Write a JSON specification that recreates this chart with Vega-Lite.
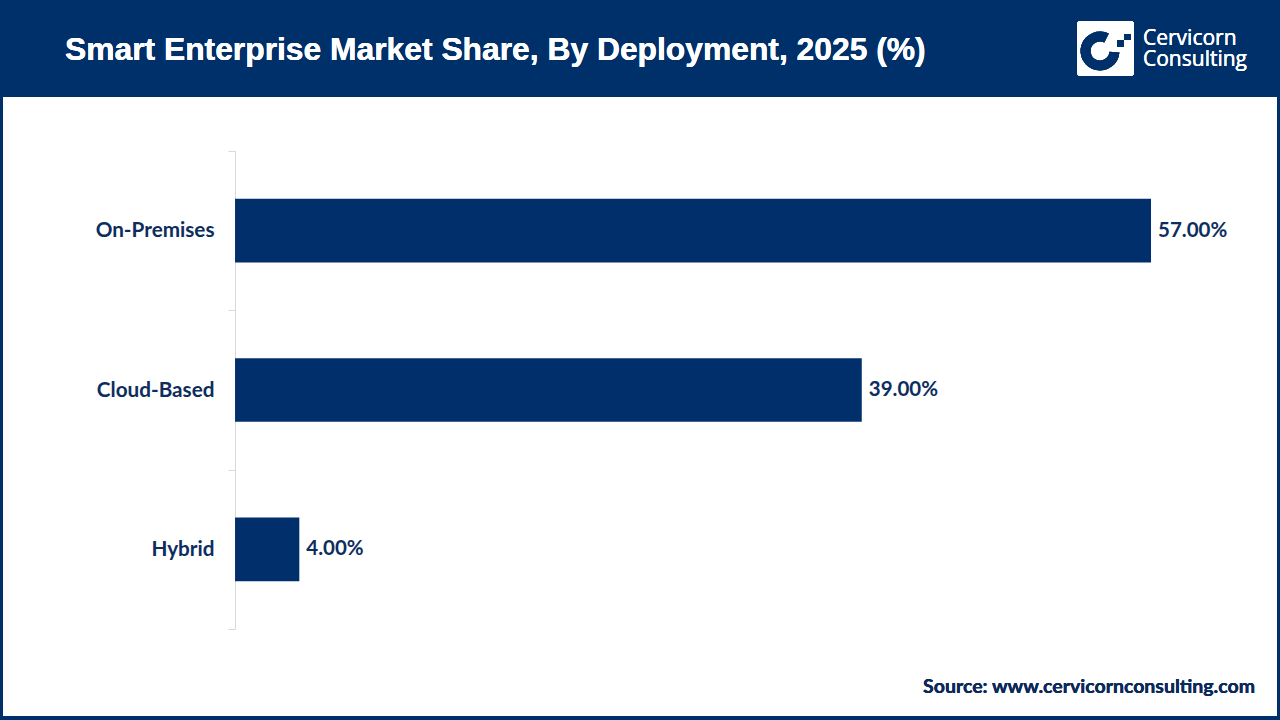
{
  "$schema": "https://vega.github.io/schema/vega-lite/v6.json",
  "width": 1274,
  "height": 619,
  "autosize": {"type": "none"},
  "padding": {"left": 3, "top": 97, "right": 3, "bottom": 4},
  "background": "#003069",
  "view": {"fill": "white", "stroke": null},
  "config": {"font": "Lato"},
  "data": {
    "values": [
      {"deployment": "On-Premises", "share": 57.0},
      {"deployment": "Cloud-Based", "share": 39.0},
      {"deployment": "Hybrid", "share": 4.0}
    ]
  },
  "encoding": {
    "y": {
      "field": "deployment",
      "type": "nominal",
      "sort": null,
      "scale": {"range": [54, 532], "paddingInner": 0, "paddingOuter": 0},
      "axis": {
        "title": null,
        "offset": -232,
        "tickBand": "extent",
        "domainColor": "#d9d9d9",
        "tickColor": "#d9d9d9",
        "tickSize": 7,
        "labelPadding": 14,
        "labelFont": "Lato",
        "labelFontWeight": "bold",
        "labelFontSize": 20.7,
        "labelColor": "#0d2d5e"
      }
    }
  },
  "layer": [
    {
      "mark": {"type": "bar", "color": "#002f6c", "height": {"band": 0.4}},
      "encoding": {
        "x": {
          "field": "share",
          "type": "quantitative",
          "scale": {"domain": [-14.44, 64.84], "nice": false, "zero": false},
          "axis": null
        }
      }
    },
    {
      "transform": [{"calculate": "format(datum.share, '.2f') + '%'", "as": "label"}],
      "mark": {"type": "text", "align": "left", "baseline": "middle", "dx": 7, "font": "Lato", "fontWeight": "bold", "fontSize": 20.5, "color": "#0d2d5e"},
      "encoding": {
        "x": {"field": "share", "type": "quantitative"},
        "text": {"field": "label"}
      }
    },
    {
      "mark": {"type": "text", "text": "Smart Enterprise Market Share, By Deployment, 2025 (%)", "align": "left", "baseline": "alphabetic", "font": "Liberation Sans", "fontWeight": "bold", "fontSize": 31.8, "color": "white"},
      "encoding": {"x": {"value": 62}, "y": {"value": -37}}
    },
    {
      "mark": {"type": "rect", "color": "white", "cornerRadius": 3},
      "encoding": {"x": {"value": 1074}, "x2": {"value": 1131}, "y": {"value": -76}, "y2": {"value": -21}}
    },
    {
      "mark": {"type": "arc", "color": "#003069", "innerRadius": 9.5, "outerRadius": 19.5, "theta": 1.65, "theta2": 6.75},
      "encoding": {"x": {"value": 1097}, "y": {"value": -46}}
    },
    {
      "mark": {"type": "rect", "color": "#003069"},
      "encoding": {"x": {"value": 1121}, "x2": {"value": 1128}, "y": {"value": -63}, "y2": {"value": -57}}
    },
    {
      "mark": {"type": "rect", "color": "#003069"},
      "encoding": {"x": {"value": 1114}, "x2": {"value": 1121}, "y": {"value": -57}, "y2": {"value": -50}}
    },
    {
      "mark": {"type": "text", "text": "Cervicorn", "align": "left", "baseline": "alphabetic", "font": "Open Sans", "fontSize": 21, "color": "white"},
      "encoding": {"x": {"value": 1140}, "y": {"value": -52}}
    },
    {
      "mark": {"type": "text", "text": "Consulting", "align": "left", "baseline": "alphabetic", "font": "Open Sans", "fontSize": 21, "color": "white"},
      "encoding": {"x": {"value": 1140}, "y": {"value": -31}}
    },
    {
      "mark": {"type": "text", "text": "Source: www.cervicornconsulting.com", "align": "right", "baseline": "alphabetic", "font": "Lato", "fontWeight": "bold", "fontSize": 19.5, "color": "#0b2a5b"},
      "encoding": {"x": {"value": 1252}, "y": {"value": 596}}
    }
  ]
}
